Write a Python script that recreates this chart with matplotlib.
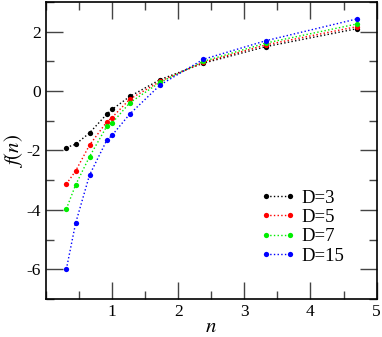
import numpy as np
import matplotlib.pyplot as plt
from matplotlib.ticker import MultipleLocator

plt.rcParams['font.family'] = ['Liberation Serif', 'DejaVu Serif']
plt.rcParams['mathtext.fontset'] = 'stix'
plt.rcParams['axes.unicode_minus'] = False

n = [0.31, 0.45, 0.66, 0.92, 1.0, 1.27, 1.73, 2.38, 3.33, 4.7]
f_d3 = [-1.90, -1.79, -1.41, -0.78, -0.62, -0.18, 0.39, 0.94, 1.50, 2.10]
f_d5 = [-3.13, -2.69, -1.82, -1.04, -0.89, -0.27, 0.33, 0.97, 1.56, 2.17]
f_d7 = [-3.97, -3.16, -2.21, -1.19, -1.08, -0.39, 0.30, 1.00, 1.62, 2.26]
f_d15 = [-6.00, -4.45, -2.83, -1.66, -1.49, -0.77, 0.21, 1.07, 1.70, 2.43]

labels = ['D=3', 'D=5', 'D=7', 'D=15']
colors = ['black', 'red', '#00ee00', 'blue']

fig = plt.figure(figsize=(3.82, 3.37), dpi=100)
ax = fig.add_axes([0.120, 0.113, 0.866, 0.881])

for vals, lab, c in zip([f_d3, f_d5, f_d7, f_d15], labels, colors):
    ax.plot(n, vals, linestyle=':', color=c, lw=1.0, marker='o',
            markersize=3.8, markeredgewidth=0, label=lab)

ax.set_xlim(0, 5)
ax.set_ylim(-7, 3)
ax.xaxis.set_minor_locator(MultipleLocator(0.5))
ax.yaxis.set_minor_locator(MultipleLocator(1))
ax.set_yticks([-6, -4, -2, 0, 2])
ax.set_xticks([1, 2, 3, 4, 5])
ax.tick_params(which='both', direction='in', top=True, right=True,
               labelsize=12.5, width=1.0, color='#444444')
ax.tick_params(which='major', length=12)
ax.tick_params(which='minor', length=6)
for s in ax.spines.values():
    s.set_linewidth(1.2)

ax.set_xlabel('$n$', fontsize=15, labelpad=-1)
ax.set_ylabel('$f(n)$', fontsize=15, labelpad=1)

ax.legend(loc='lower right', bbox_to_anchor=(0.925, 0.09), frameon=False,
          numpoints=2, fontsize=13.5, handlelength=1.9, handletextpad=0.3,
          labelspacing=0.12, borderaxespad=0)

fig.savefig('out.png', dpi=100)
